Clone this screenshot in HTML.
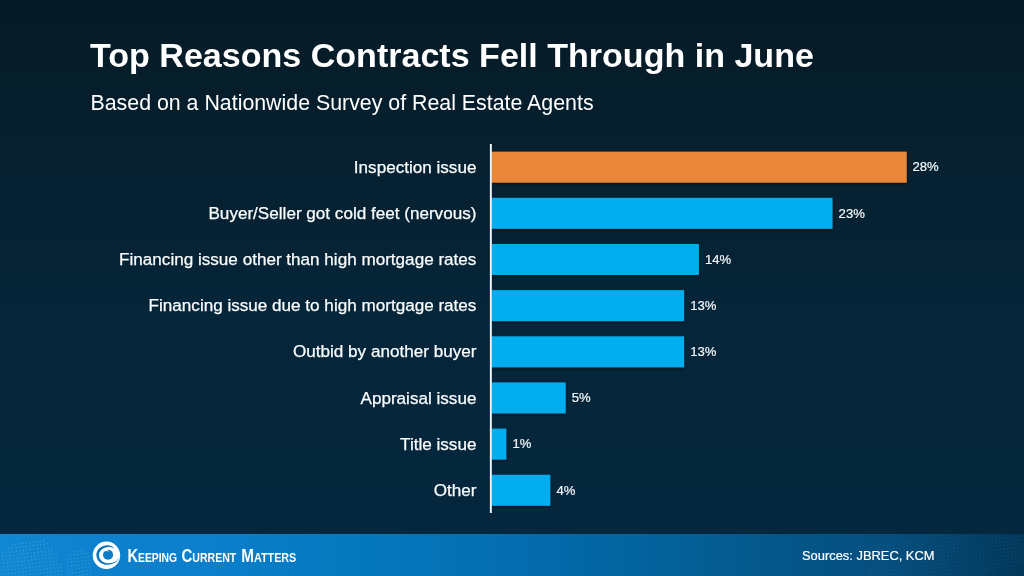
<!DOCTYPE html>
<html lang="en">
<head>
<meta charset="utf-8">
<title>Top Reasons Contracts Fell Through in June</title>
<style>
  html,body{margin:0;padding:0;}
  body{width:1024px;height:576px;overflow:hidden;position:relative;
    font-family:"Liberation Sans",Arial,Helvetica,sans-serif;color:#fff;
    background:linear-gradient(180deg,#061a25 0%,#06202f 25%,#052539 55%,#04283f 100%);}
  .title{position:absolute;left:90px;top:34.5px;font-size:34.05px;font-weight:700;line-height:40px;white-space:nowrap;}
  .subtitle{position:absolute;left:90.5px;top:90px;font-size:21.35px;line-height:26px;white-space:nowrap;}
  svg.chart{position:absolute;left:0;top:0;}
  .lbl{position:absolute;right:547.6px;-webkit-text-stroke:0.25px #fbfdff;height:31px;line-height:31px;font-size:17.1px;white-space:nowrap;text-align:right;color:#fbfdff;}
  .val{position:absolute;margin-top:-0.3px;-webkit-text-stroke:0.2px #f4f7fa;height:31px;line-height:31px;font-size:13.1px;white-space:nowrap;color:#f4f7fa;}
  .footer{position:absolute;left:0;top:534px;width:1024px;height:42px;
    background:linear-gradient(90deg,#1188d3 0px,#0d81cd 90px,#0b7fcb 215px,#057bc1 320px,#0576ba 395px,#046cb0 515px,#03629b 655px,#04578a 775px,#064f7f 885px,#033f66 975px,#02385a 1024px);}
  .src{position:absolute;left:802px;top:1px;height:42px;line-height:42px;font-size:12.9px;-webkit-text-stroke:0.2px #fff;white-space:nowrap;}
</style>
</head>
<body>
<div class="title">Top Reasons Contracts Fell Through in June</div>
<div class="subtitle">Based on a Nationwide Survey of Real Estate Agents</div>

<svg class="chart" width="1024" height="534" viewBox="0 0 1024 534">
  <defs>
    <filter id="sh" x="-5%" y="-20%" width="110%" height="150%">
      <feDropShadow dx="0.5" dy="1.2" stdDeviation="1.4" flood-color="#000" flood-opacity="0.5"/>
    </filter>
  </defs>
  <g filter="url(#sh)">
    <rect x="491.5" y="151.65" width="415.2" height="31" fill="#eb8737"/>
    <rect x="491.5" y="197.8"  width="341" height="31" fill="#00adef"/>
    <rect x="491.5" y="244"    width="207.4" height="31" fill="#00adef"/>
    <rect x="491.5" y="290.1"  width="192.6" height="31" fill="#00adef"/>
    <rect x="491.5" y="336.3"  width="192.6" height="31" fill="#00adef"/>
    <rect x="491.5" y="382.4"  width="74.2" height="31" fill="#00adef"/>
    <rect x="491.5" y="428.6"  width="14.8" height="31" fill="#00adef"/>
    <rect x="491.5" y="474.8"  width="58.8" height="31" fill="#00adef"/>
  </g>
  <rect x="489.9" y="144" width="1.9" height="369" fill="#f4f7fa"/>
</svg>

<div class="lbl" style="top:152px">Inspection issue</div>
<div class="lbl" style="top:198px">Buyer/Seller got cold feet (nervous)</div>
<div class="lbl" style="top:244px">Financing issue other than high mortgage rates</div>
<div class="lbl" style="top:290px">Financing issue due to high mortgage rates</div>
<div class="lbl" style="top:336px">Outbid by another buyer</div>
<div class="lbl" style="top:383px">Appraisal issue</div>
<div class="lbl" style="top:429px">Title issue</div>
<div class="lbl" style="top:475px">Other</div>

<div class="val" style="top:151.6px;left:912.5px">28%</div>
<div class="val" style="top:197.8px;left:838.6px">23%</div>
<div class="val" style="top:244px;left:705px">14%</div>
<div class="val" style="top:290.1px;left:690.2px">13%</div>
<div class="val" style="top:336.3px;left:690.2px">13%</div>
<div class="val" style="top:382.4px;left:571.8px">5%</div>
<div class="val" style="top:428.6px;left:512.4px">1%</div>
<div class="val" style="top:474.8px;left:556.4px">4%</div>

<div class="footer">
  <svg width="110" height="42" viewBox="0 0 110 42" style="position:absolute;left:0;top:0">
    <defs>
      <pattern id="dots" width="5" height="5" patternUnits="userSpaceOnUse" patternTransform="rotate(38)">
        <circle cx="1" cy="1" r="0.58" fill="#a6dcff"/>
        <circle cx="3.5" cy="3.5" r="0.58" fill="#a6dcff"/>
      </pattern>
      <mask id="m1"><path d="M2 16 C8 8 20 10 30 6 C40 3 50 6 54 16 C58 24 64 30 62 42 L0 42 Z M68 20 C76 12 88 14 92 22 C94 30 90 38 92 42 L66 42 C70 34 64 28 68 20 Z" fill="#fff" fill-opacity="0.62"/></mask>
    </defs>
    <rect x="0" y="0" width="110" height="42" fill="url(#dots)" mask="url(#m1)" opacity="0.8"/>
  </svg>
  <svg width="40" height="38" viewBox="0 0 606 576" style="position:absolute;left:86px;top:2px">
    <circle cx="310" cy="293" r="208" fill="#fff"/>
    <path d="M432 192 C402 152 360 140 325 140 C232 140 157 206 157 288 C157 370 232 437 325 437 C421 437 500 380 500 308 C494 370 430 414 345 414 C262 414 197 359 197 290 C197 221 262 166 345 166 C380 166 410 173 432 192 Z" fill="#0b74bd"/>
    <circle cx="334" cy="284" r="77" fill="#0d7cc7"/>
    <path d="M262 240 C290 200 340 200 350 244 C332 224 300 224 262 240 Z" fill="#fff"/>
  </svg>
  <svg width="180" height="42" viewBox="0 0 180 42" style="position:absolute;left:120px;top:0" font-family="'Liberation Sans',Arial,sans-serif" font-weight="700" fill="#fff">
    <text x="7.4" y="27.7" textLength="49.7" lengthAdjust="spacingAndGlyphs"><tspan font-size="18.4">K</tspan><tspan font-size="13">EEPING</tspan></text>
    <text x="61.5" y="27.7" textLength="54.8" lengthAdjust="spacingAndGlyphs"><tspan font-size="18.4">C</tspan><tspan font-size="13">URRENT</tspan></text>
    <text x="121.3" y="27.7" textLength="55" lengthAdjust="spacingAndGlyphs"><tspan font-size="18.4">M</tspan><tspan font-size="13">ATTERS</tspan></text>
  </svg>
  <svg width="200" height="42" viewBox="0 0 200 42" style="position:absolute;left:824px;top:0">
    <defs>
      <mask id="m2"><path d="M40 42 C50 24 70 8 100 2 C130 -2 160 4 190 0 L200 0 L200 30 C180 34 170 38 160 42 Z" fill="#fff" fill-opacity="0.16"/></mask>
    </defs>
    <rect x="0" y="0" width="200" height="42" fill="url(#dots)" mask="url(#m2)"/>
  </svg>
  <div class="src">Sources: JBREC, KCM</div>
</div>
</body>
</html>
